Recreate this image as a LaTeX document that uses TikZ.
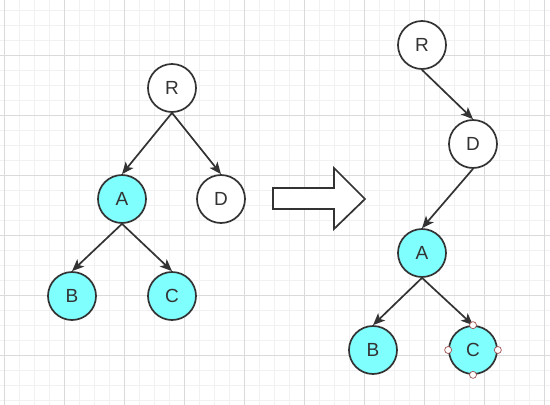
\documentclass[tikz,border=0pt]{standalone}
\usepackage{fontspec}
\setmainfont{Liberation Sans}
\usetikzlibrary{arrows.meta}
\definecolor{minorgrid}{HTML}{F1F1F1}
\definecolor{majorgrid}{HTML}{DADADA}
\definecolor{cyanfill}{HTML}{80FFFF}
\definecolor{stroke}{HTML}{333333}
\definecolor{handleline}{HTML}{A05050}
\tikzset{
  treenode/.style={circle, draw=stroke, line width=1.7pt, fill=white, minimum size=48pt, inner sep=0pt,
    font=\fontsize{19}{22}\selectfont, text=stroke},
  hl/.style={fill=cyanfill},
  edge/.style={draw=stroke, line width=1.7pt, -{Stealth[length=12pt,width=10pt,inset=3pt]}},
  handle/.style={circle, draw=handleline, line width=0.7pt, fill=white, minimum size=7pt, inner sep=0pt},
  bigarrow/.style={draw=stroke, line width=1.7pt, fill=white, line join=miter}
}
\begin{document}
\begin{tikzpicture}[x=1pt,y=-1pt]
\useasboundingbox (0,0) rectangle (550,405);
\fill[white] (0,0) rectangle (550,405);
% minor grid
\foreach \x in {4,19,...,550} \draw[minorgrid, line width=0.7pt] (\x,0) -- (\x,405);
\foreach \y in {10,25,...,405} \draw[minorgrid, line width=0.7pt] (0,\y) -- (550,\y);
% major grid
\foreach \x in {4,64,...,550} \draw[majorgrid, line width=0.7pt] (\x,0) -- (\x,405);
\foreach \y in {55,115,...,405} \draw[majorgrid, line width=0.7pt] (0,\y) -- (550,\y);

% left tree
\node[treenode] (R1) at (172,88) {R};
\node[treenode,hl] (A1) at (122,199) {A};
\node[treenode] (D1) at (221,199) {D};
\node[treenode,hl] (B1) at (72,296) {B};
\node[treenode,hl] (C1) at (172,296) {C};
\draw[edge] (R1.south) -- (A1.north);
\draw[edge] (R1.south) -- (D1.north);
\draw[edge] (A1.south) -- (B1.north);
\draw[edge] (A1.south) -- (C1.north);

% big arrow
\draw[bigarrow] (273,188) -- (334,188) -- (334,168) -- (365,199) -- (334,229) -- (334,209) -- (273,209) -- cycle;

% right tree
\node[treenode] (R2) at (422,45) {R};
\node[treenode] (D2) at (473,144) {D};
\node[treenode,hl] (A2) at (422,253) {A};
\node[treenode,hl] (B2) at (373,350) {B};
\node[treenode,hl] (C2) at (473,350) {C};
\draw[edge] (R2.south) -- (D2.north);
\draw[edge] (D2.south) -- (A2.north);
\draw[edge] (A2.south) -- (B2.north);
\draw[edge] (A2.south) -- (C2.north);

% selection handles
\node[handle] (hn) at (C2.north) {};
\node[handle] (he) at (C2.east) {};
\node[handle] (hs) at (C2.south) {};
\node[handle] (hw) at (C2.west) {};
\end{tikzpicture}
\end{document}
